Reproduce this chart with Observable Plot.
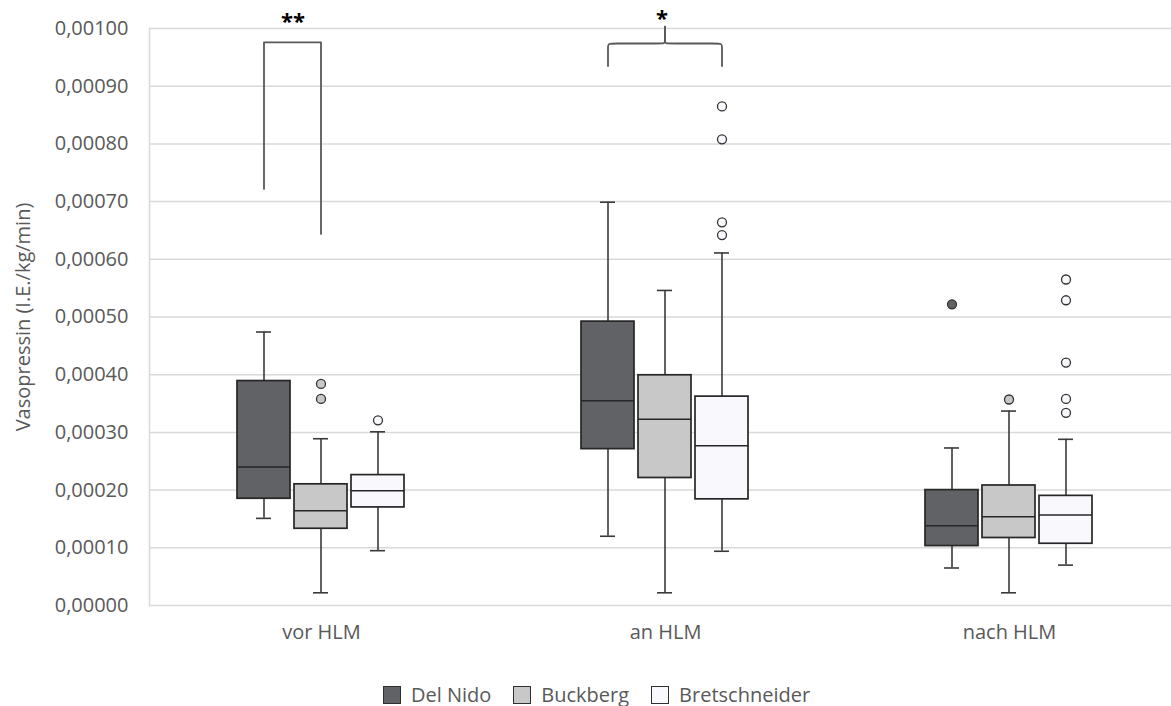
<!DOCTYPE html>
<html>
<head>
<meta charset="utf-8">
<script src="https://cdn.jsdelivr.net/npm/d3@7"></script>
<script src="https://cdn.jsdelivr.net/npm/@observablehq/plot@0.6"></script>
<style>
  html, body { margin: 0; padding: 0; background: #ffffff; overflow: hidden; }
  body { font-family: "Open Sans", sans-serif; }
  #legend { display: flex; justify-content: center; align-items: center; gap: 22px;
            padding-left: 22px; margin-top: 19px; font-size: 20px; color: #595959; line-height: 22px; }
  #legend .item { display: flex; align-items: center; }
  #legend .sw { width: 16px; height: 16px; border: 1.6px solid #2f2f2f; margin-right: 10px; }
</style>
</head>
<body>
<div id="chart"></div>
<div id="legend"></div>
<script>
// Categories and series
const categories = ["vor HLM", "an HLM", "nach HLM"];
const series = ["Del Nido", "Buckberg", "Bretschneider"];
const colors = ["#616266", "#c8c8c8", "#f9f8fd"];
const yTicks = [0, 0.0001, 0.0002, 0.0003, 0.0004, 0.0005, 0.0006, 0.0007, 0.0008, 0.0009, 0.001];

// Box statistics, order: vor (DN, Bu, Br), an (DN, Bu, Br), nach (DN, Bu, Br)
const whiskerMin = [0.000151, 0.000022, 0.000095, 0.000120, 0.000022, 0.000094, 0.000065, 0.000022, 0.000070];
const quartile1  = [0.000185, 0.000133, 0.000170, 0.000271, 0.000221, 0.000184, 0.000103, 0.000117, 0.000107];
const median     = [0.000240, 0.000164, 0.000199, 0.000355, 0.000323, 0.000277, 0.000138, 0.000154, 0.000157];
const quartile3  = [0.000389, 0.000210, 0.000226, 0.000492, 0.000399, 0.000362, 0.000200, 0.000208, 0.000190];
const whiskerMax = [0.000474, 0.000289, 0.000301, 0.000699, 0.000546, 0.000611, 0.000273, 0.000337, 0.000288];

// Outliers
const outlierCategory = ["vor HLM", "vor HLM", "vor HLM", "an HLM", "an HLM", "an HLM", "an HLM",
                         "nach HLM", "nach HLM", "nach HLM", "nach HLM", "nach HLM", "nach HLM", "nach HLM"];
const outlierSeries = ["Buckberg", "Buckberg", "Bretschneider", "Bretschneider", "Bretschneider", "Bretschneider", "Bretschneider",
                       "Del Nido", "Buckberg", "Bretschneider", "Bretschneider", "Bretschneider", "Bretschneider", "Bretschneider"];
const outlierValue = [0.000384, 0.000358, 0.000321, 0.000865, 0.000808, 0.000664, 0.000642,
                      0.000522, 0.000357, 0.000565, 0.000529, 0.000421, 0.000358, 0.000334];

// Significance annotations
const bracketSeries = ["Del Nido", "Del Nido", "Buckberg", "Buckberg"];
const bracketValue = [0.000722, 0.000976, 0.000976, 0.000644];
const braceSide = ["L", "L", "L", "L", "L", "L", "R", "R", "R", "R", "R", "R"];
const braceSeries = ["Del Nido", "Del Nido", "Del Nido", "Buckberg", "Buckberg", "Buckberg",
                     "Bretschneider", "Bretschneider", "Bretschneider", "Buckberg", "Buckberg", "Buckberg"];
const braceValue = [0.000935, 0.000974, 0.000974, 0.000974, 0.000974, 0.001003,
                    0.000935, 0.000974, 0.000974, 0.000974, 0.000974, 0.001003];
const starLabels = ["**", "*"];
const starValues = [0.001012, 0.001016];

const rows = categories.flatMap((c, i) => series.map((s, j) => ({
  category: c, series: s,
  min: whiskerMin[i * 3 + j], q1: quartile1[i * 3 + j], med: median[i * 3 + j],
  q3: quartile3[i * 3 + j], max: whiskerMax[i * 3 + j]
})));
const outliers = outlierValue.map((v, i) => ({category: outlierCategory[i], series: outlierSeries[i], value: v}));
const bracket = bracketValue.map((v, i) => ({category: "vor HLM", series: bracketSeries[i], value: v}));
const brace = braceValue.map((v, i) => ({category: "an HLM", side: braceSide[i], series: braceSeries[i], value: v}));

const fmt = d => d.toFixed(5).replace(".", ",");
const ink = "#262626";

const chart = Plot.plot({
  width: 1181,
  height: 665,
  marginLeft: 149,
  marginRight: 0,
  marginTop: 28,
  marginBottom: 60,
  style: {fontFamily: "Open Sans, sans-serif", fontSize: "20px", color: "#595959", background: "#ffffff", maxWidth: "none"},
  fx: {domain: categories, padding: 0, label: null},
  x: {domain: series, paddingInner: 0.065, paddingOuter: 1.52, axis: null},
  y: {domain: [0, 0.001]},
  color: {domain: series, range: colors},
  marks: [
    Plot.gridY(yTicks, {stroke: "#d9d9d9", strokeOpacity: 1, strokeWidth: 1.5}),
    Plot.frame({anchor: "left", facetAnchor: "left", stroke: "#d9d9d9", strokeWidth: 1.5}),
    Plot.axisY({ticks: yTicks, tickFormat: fmt, tickSize: 0, tickPadding: 21,
                label: "Vasopressin (I.E./kg/min)", labelAnchor: "center", labelArrow: "none", labelOffset: 134}),
    Plot.axisFx({anchor: "bottom", tickSize: 0, tickPadding: 19, label: null}),
    Plot.ruleX(rows, {fx: "category", x: "series", y1: "min", y2: "max", stroke: "#3a3a3a", strokeWidth: 1.6}),
    Plot.tickY(rows, {fx: "category", x: "series", y: "min", inset: 19, stroke: "#3a3a3a", strokeWidth: 1.6}),
    Plot.tickY(rows, {fx: "category", x: "series", y: "max", inset: 19, stroke: "#3a3a3a", strokeWidth: 1.6}),
    Plot.barY(rows, {fx: "category", x: "series", y1: "q1", y2: "q3", fill: "series", stroke: ink, strokeWidth: 1.7}),
    Plot.tickY(rows, {fx: "category", x: "series", y: "med", stroke: ink, strokeWidth: 1.5}),
    Plot.dot(outliers, {fx: "category", x: "series", y: "value", fill: "series", stroke: "#333333", strokeWidth: 1.3, r: 4.5}),
    Plot.line(bracket, {fx: "category", x: "series", y: "value", stroke: "#595959", strokeWidth: 1.8}),
    Plot.line(brace, {fx: "category", x: "series", y: "value", z: "side", curve: "basis", stroke: "#595959", strokeWidth: 1.8}),
    Plot.text([{category: "vor HLM", series: "Del Nido", value: starValues[0], label: starLabels[0]}],
              {fx: "category", x: "series", y: "value", text: "label", dx: 29, fontWeight: "bold", fontSize: 22, fill: "#000000"}),
    Plot.text([{category: "an HLM", series: "Buckberg", value: starValues[1], label: starLabels[1]}],
              {fx: "category", x: "series", y: "value", text: "label", dx: -3, fontWeight: "bold", fontSize: 22, fill: "#000000"})
  ]
});
document.getElementById("chart").appendChild(chart);

const legend = document.getElementById("legend");
series.forEach((s, i) => {
  const item = document.createElement("div");
  item.className = "item";
  const sw = document.createElement("span");
  sw.className = "sw";
  sw.style.background = colors[i];
  const label = document.createElement("span");
  label.textContent = s;
  item.appendChild(sw);
  item.appendChild(label);
  legend.appendChild(item);
});
</script>
</body>
</html>
